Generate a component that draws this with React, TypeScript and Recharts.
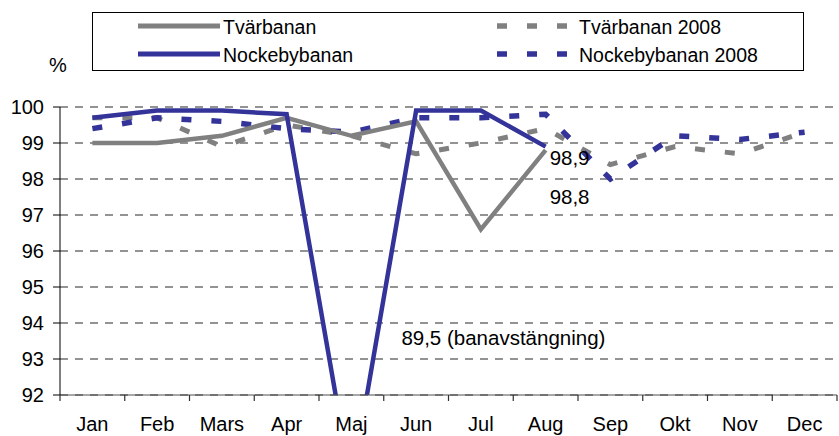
import React from 'react';
import {
  LineChart,
  Line,
  XAxis,
  YAxis,
  CartesianGrid,
  Legend,
  ReferenceDot,
} from 'recharts';

// Months on the x axis
const months = ['Jan', 'Feb', 'Mars', 'Apr', 'Maj', 'Jun', 'Jul', 'Aug', 'Sep', 'Okt', 'Nov', 'Dec'];

// 2009 values (only through August)
const tvarbanan = [99.0, 99.0, 99.2, 99.7, 99.2, 99.6, 96.6, 98.8, null, null, null, null];
const nockebybanan = [99.7, 99.9, 99.9, 99.8, 89.5, 99.9, 99.9, 98.9, null, null, null, null];

// 2008 values
const tvarbanan2008 = [99.7, 99.7, 98.9, 99.5, 99.2, 98.7, 99.0, 99.4, 98.4, 98.9, 98.7, 99.3];
const nockebybanan2008 = [99.4, 99.7, 99.6, 99.4, 99.3, 99.7, 99.7, 99.8, 98.0, 99.2, 99.1, 99.3];

const yTicks = [92, 93, 94, 95, 96, 97, 98, 99, 100];
const closureNote = 'banavstängning';

const GRAY = '#808080';
const BLUE = '#333399';
const FONT = '"Liberation Sans", Arial, Helvetica, sans-serif';

const series = [
  { key: 'tvb', name: 'Tvärbanan', color: GRAY, dashed: false },
  { key: 'nkb', name: 'Nockebybanan', color: BLUE, dashed: false },
  { key: 'tvb08', name: 'Tvärbanan 2008', color: GRAY, dashed: true },
  { key: 'nkb08', name: 'Nockebybanan 2008', color: BLUE, dashed: true },
];

const data = months.map((m, i) => ({
  month: m,
  tvb: tvarbanan[i],
  nkb: nockebybanan[i],
  tvb08: tvarbanan2008[i],
  nkb08: nockebybanan2008[i],
}));

const fmt = (v: number) => String(v).replace('.', ',');

// plot spans 60..837, so each month band is this wide
const BAND = 777 / months.length;

// category tick: label in the middle, tick marks on the band edges
const MonthTick = (props: any) => {
  const { x, y, payload, index } = props;
  const half = BAND / 2;
  return (
    <g>
      <line x1={x - half} x2={x - half} y1={y} y2={y + 6} stroke="#303030" strokeWidth={1.2} />
      {index === months.length - 1 && (
        <line x1={x + half} x2={x + half} y1={y} y2={y + 6} stroke="#303030" strokeWidth={1.2} />
      )}
      <text x={x} y={y + 36} textAnchor="middle" fontSize={20} fontFamily={FONT} fill="#000">
        {payload.value}
      </text>
    </g>
  );
};

const endLabel = (dy: number) => (props: any) => {
  const { x, y, index, value } = props;
  if (index !== 7 || value == null) return null;
  return (
    <text
      x={x + 4}
      y={y + dy}
      dominantBaseline="central"
      fontSize={20.5}
      fontFamily={FONT}
      fill="#000"
    >
      {fmt(value)}
    </text>
  );
};

const LegendBox = () => {
  const cols = [
    { lineX: 46, textX: 131 },
    { lineX: 405, textX: 487 },
  ];
  const rows = [15, 43];
  return (
    <div
      style={{
        position: 'relative',
        width: 712,
        height: 59,
        border: '1px solid #000',
        boxSizing: 'border-box',
        background: '#fff',
        fontFamily: FONT,
      }}
    >
      {series.map((s, i) => {
        const col = cols[s.dashed ? 1 : 0];
        const rowY = rows[i % 2];
        return (
          <div key={s.key}>
            <svg
              width={82}
              height={10}
              style={{ position: 'absolute', left: col.lineX - 1, top: rowY - 7 }}
            >
              {s.dashed ? (
                <line
                  x1={0}
                  x2={70}
                  y1={5}
                  y2={5}
                  stroke={s.color}
                  strokeWidth={5.5}
                  strokeDasharray="10 20"
                />
              ) : (
                <line x1={0} x2={82} y1={5} y2={5} stroke={s.color} strokeWidth={5} strokeLinecap="round" />
              )}
            </svg>
            <span
              style={{
                position: 'absolute',
                left: col.textX - 1,
                top: rowY - 13,
                fontSize: 19.5,
                lineHeight: '24px',
                color: '#000',
                whiteSpace: 'nowrap',
              }}
            >
              {s.name}
            </span>
          </div>
        );
      })}
    </div>
  );
};

export default function App() {
  return (
    <div style={{ position: 'relative', width: 839, height: 436, background: '#fff' }}>
      <style>{'body{margin:0;}'}</style>
      <div
        style={{
          position: 'absolute',
          left: 49,
          top: 54,
          fontFamily: FONT,
          fontSize: 20,
          color: '#000',
        }}
      >
        %
      </div>
      <LineChart
        width={839}
        height={436}
        data={data}
        margin={{ top: 107, right: 2, left: 0, bottom: 11 }}
      >
        <CartesianGrid
          vertical={false}
          stroke="#707070"
          strokeWidth={1.5}
          strokeDasharray="8 7"
        />
        <XAxis
          dataKey="month"
          scale="band"
          height={30}
          tickLine={false}
          tickSize={0}
          tickMargin={0}
          interval={0}
          axisLine={{ stroke: '#505050', strokeWidth: 1 }}
          tick={<MonthTick />}
        />
        <YAxis
          width={60}
          domain={[92, 100]}
          ticks={yTicks}
          interval={0}
          allowDataOverflow
          tickSize={7}
          tickMargin={9}
          axisLine={{ stroke: '#000', strokeWidth: 1 }}
          tickLine={{ stroke: '#000', strokeWidth: 1 }}
          tick={{ fontSize: 20, fill: '#000', fontFamily: FONT }}
        />
        <Legend
          layout="vertical"
          align="center"
          verticalAlign="middle"
          wrapperStyle={{ top: 12, left: 92, width: 712, height: 59 }}
          content={() => <LegendBox />}
        />
        <Line
          dataKey="tvb08"
          name="Tvärbanan 2008"
          stroke={GRAY}
          strokeWidth={5}
          strokeDasharray="10 20"
          dot={false}
          activeDot={false}
          isAnimationActive={false}
        />
        <Line
          dataKey="nkb08"
          name="Nockebybanan 2008"
          stroke={BLUE}
          strokeWidth={5.5}
          strokeDasharray="10 20"
          dot={false}
          activeDot={false}
          isAnimationActive={false}
        />
        <Line
          dataKey="tvb"
          name="Tvärbanan"
          stroke={GRAY}
          strokeWidth={4.5}
          dot={false}
          activeDot={false}
          isAnimationActive={false}
          label={endLabel(46)}
        />
        <Line
          dataKey="nkb"
          name="Nockebybanan"
          stroke={BLUE}
          strokeWidth={4.5}
          dot={false}
          activeDot={false}
          isAnimationActive={false}
          label={endLabel(11)}
        />
        <ReferenceDot
          x="Maj"
          y={93.6}
          r={0}
          fill="none"
          stroke="none"
          label={{
            content: (p: any) => {
              const vb = p.viewBox || {};
              return (
                <text
                  x={(vb.x || 0) + 50}
                  y={vb.y || 0}
                  dominantBaseline="central"
                  fontSize={20.5}
                  fontFamily={FONT}
                  fill="#000"
                >
                  {`${fmt(nockebybanan[4] as number)} (${closureNote})`}
                </text>
              );
            },
          }}
        />
      </LineChart>
    </div>
  );
}
